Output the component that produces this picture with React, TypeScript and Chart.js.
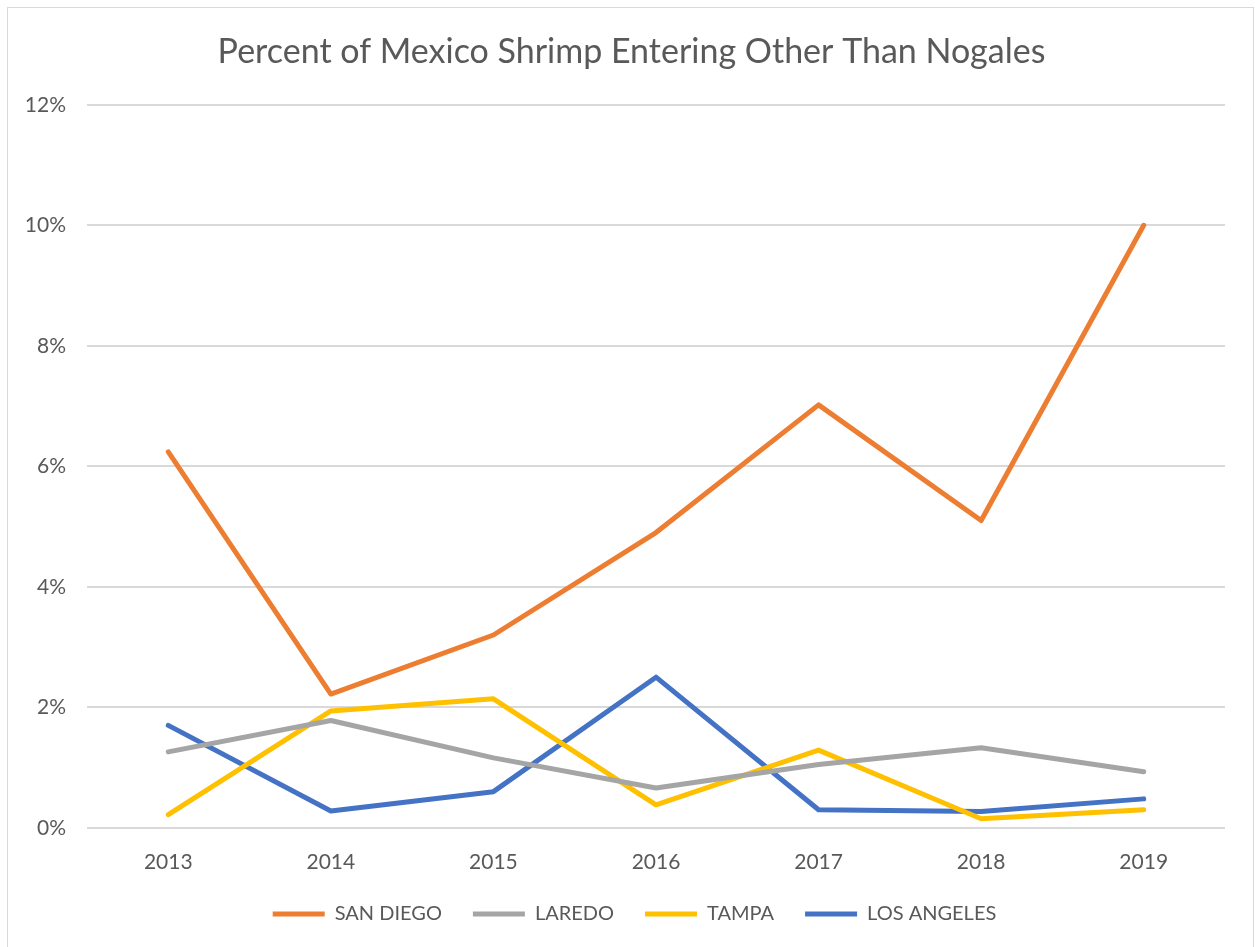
import React, { useEffect, useRef } from "react";
import { Chart, registerables } from "chart.js";

Chart.register(...registerables);

const years = ["2013", "2014", "2015", "2016", "2017", "2018", "2019"];
const sanDiego = [6.24, 2.22, 3.2, 4.9, 7.02, 5.1, 10.0];
const laredo = [1.26, 1.78, 1.16, 0.66, 1.05, 1.33, 0.93];
const tampa = [0.22, 1.94, 2.14, 0.38, 1.29, 0.15, 0.3];
const losAngeles = [1.7, 0.28, 0.6, 2.5, 0.3, 0.27, 0.48];
const yTicks = [0, 2, 4, 6, 8, 10, 12];
const title = "Percent of Mexico Shrimp Entering Other Than Nogales";

const FONT = "Lato";
const TEXT = "#595959";

const borderPlugin = {
  id: "outerBorder",
  beforeDraw(chart: any) {
    const ctx = chart.ctx;
    ctx.save();
    ctx.fillStyle = "#ffffff";
    ctx.fillRect(0, 0, chart.width, chart.height);
    ctx.strokeStyle = "#d9d9d9";
    ctx.lineWidth = 1;
    ctx.strokeRect(7.5, 7.5, 1246, 970);
    ctx.restore();
  },
};

const shiftPlugin = {
  id: "shiftBlocks",
  afterLayout(chart: any) {
    if (chart.legend) {
      chart.legend.left += 12;
      chart.legend.right += 12;
    }
    if (chart.titleBlock) {
      chart.titleBlock.left += 9;
      chart.titleBlock.right += 9;
    }
  },
};

export default function App() {
  const ref = useRef<HTMLCanvasElement>(null);
  useEffect(() => {
    if (!ref.current) return;
    const mk = (label: string, data: number[], color: string) => ({
      label,
      data,
      borderColor: color,
      backgroundColor: color,
      borderWidth: 5,
      borderCapStyle: "round" as const,
      borderJoinStyle: "round" as const,
      pointRadius: 0,
      pointHoverRadius: 0,
      tension: 0,
      fill: false,
      pointStyle: "line" as const,
    });
    const chart = new Chart(ref.current, {
      type: "line",
      data: {
        labels: years,
        datasets: [
          mk("SAN DIEGO", sanDiego, "#ED7D31"),
          mk("LAREDO", laredo, "#A5A5A5"),
          mk("TAMPA", tampa, "#FFC000"),
          mk("LOS ANGELES", losAngeles, "#4472C4"),
        ],
      },
      options: {
        animation: false,
        responsive: false,
        layout: { padding: { left: 20, right: 30, top: 0, bottom: 13 } },
        plugins: {
          title: {
            display: true,
            text: title,
            color: TEXT,
            font: { family: FONT, size: 34, weight: "normal" as const },
            padding: { top: 32, bottom: 32 },
          },
          legend: {
            position: "bottom",
            labels: {
              usePointStyle: true,
              pointStyleWidth: 52,
              color: TEXT,
              font: { family: FONT, size: 20 },
              padding: 31,
            },
          },
          tooltip: { enabled: false },
        },
        scales: {
          x: {
            offset: true,
            grid: { display: false, drawTicks: false },
            border: { display: false },
            afterFit(scale: any) {
              scale.height = scale.height - 24;
            },
            ticks: {
              color: TEXT,
              font: { family: FONT, size: 21 },
              padding: 22,
            },
          },
          y: {
            min: 0,
            max: 12,
            afterBuildTicks(scale: any) {
              scale.ticks = yTicks.map((v) => ({ value: v }));
            },
            afterFit(scale: any) {
              scale.width = 67;
            },
            grid: { color: "#d9d9d9", lineWidth: 2, drawTicks: false },
            border: { display: false },
            ticks: {
              color: TEXT,
              font: { family: FONT, size: 21 },
              padding: 21,
              callback: (v: any) => `${v}%`,
            },
          },
        },
      },
      plugins: [borderPlugin, shiftPlugin],
    });
    return () => chart.destroy();
  }, []);
  return (
    <div style={{ position: "fixed", left: 0, top: 0, width: 1255, height: 947, background: "#fff" }}>
      <canvas ref={ref} width={1255} height={947} style={{ display: "block" }} />
    </div>
  );
}
